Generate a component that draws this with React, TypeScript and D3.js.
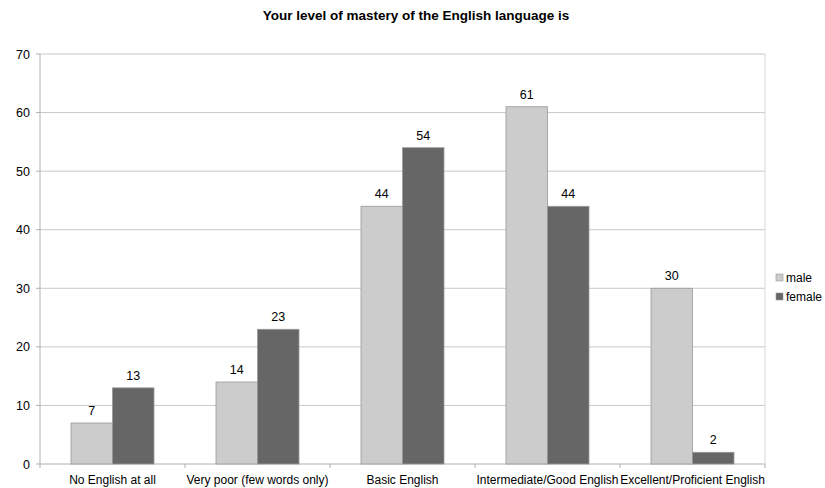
import React from "react";
import * as d3 from "d3";

const categories = [
  "No English at all",
  "Very poor (few words only)",
  "Basic English",
  "Intermediate/Good English",
  "Excellent/Proficient English",
];
const seriesNames = ["male", "female"];
const maleValues = [7, 14, 44, 61, 30];
const femaleValues = [13, 23, 54, 44, 2];
const yTicks = [0, 10, 20, 30, 40, 50, 60, 70];
const colors = ["#cccccc", "#666666"];

const W = 825;
const H = 488;
const left = 40;
const right = 765;
const top = 54;
const bottom = 464;
const font = "'Liberation Sans', Arial, sans-serif";

export default function App() {
  const x = d3.scaleBand<string>().domain(categories).range([left, right]).paddingInner(0).paddingOuter(0);
  const inner = d3.scaleBand<string>().domain(seriesNames).range([0, x.bandwidth()]).paddingInner(0).paddingOuter(0.747);
  const y = d3.scaleLinear().domain([0, 70]).range([bottom, top]);
  const series = [maleValues, femaleValues];

  return (
    <svg width={W} height={H} style={{ position: "absolute", left: 0, top: 0, background: "#fff" }} fontFamily={font}>
      <text x={416} y={20} textAnchor="middle" fontSize={13.5} fontWeight="bold" fill="#000">
        Your level of mastery of the English language is
      </text>
      {yTicks.map((t) => (
        <g key={t}>
          <line x1={left} x2={right} y1={y(t)} y2={y(t)} stroke={t === 0 ? "#b0b0b0" : "#c8c8c8"} strokeWidth={1} />
          <line x1={left - 4} x2={left} y1={y(t)} y2={y(t)} stroke="#b0b0b0" />
          <text x={left - 10} y={y(t) + 4.5} textAnchor="end" fontSize={12.5} fill="#000">
            {t}
          </text>
        </g>
      ))}
      <line x1={left} x2={left} y1={top} y2={bottom} stroke="#b0b0b0" />
      <line x1={right} x2={right} y1={top} y2={bottom} stroke="#d8d8d8" />
      {categories.map((c, i) => (
        <line key={"tk" + i} x1={x(c)!} x2={x(c)!} y1={bottom} y2={bottom + 4} stroke="#b0b0b0" />
      ))}
      <line x1={right} x2={right} y1={bottom} y2={bottom + 4} stroke="#b0b0b0" />
      {categories.map((c, i) =>
        seriesNames.map((s, j) => {
          const v = series[j][i];
          const bx = x(c)! + inner(s)!;
          return (
            <g key={c + s}>
              <rect x={bx} y={y(v)} width={inner.bandwidth()} height={bottom - y(v)} fill={colors[j]} stroke="#999" strokeWidth={0.8} />
              <text x={bx + inner.bandwidth() / 2} y={y(v) - 8} textAnchor="middle" fontSize={12.5} fill="#000">
                {v}
              </text>
            </g>
          );
        })
      )}
      {categories.map((c) => (
        <text key={"l" + c} x={x(c)! + x.bandwidth() / 2} y={484} textAnchor="middle" fontSize={12} fill="#000">
          {c}
        </text>
      ))}
      {seriesNames.map((s, j) => (
        <g key={"lg" + s}>
          <rect x={776} y={274 + j * 19} width={7} height={7} fill={colors[j]} stroke="#999" strokeWidth={0.6} />
          <text x={786} y={282 + j * 19} fontSize={12} fill="#000">
            {s}
          </text>
        </g>
      ))}
    </svg>
  );
}
